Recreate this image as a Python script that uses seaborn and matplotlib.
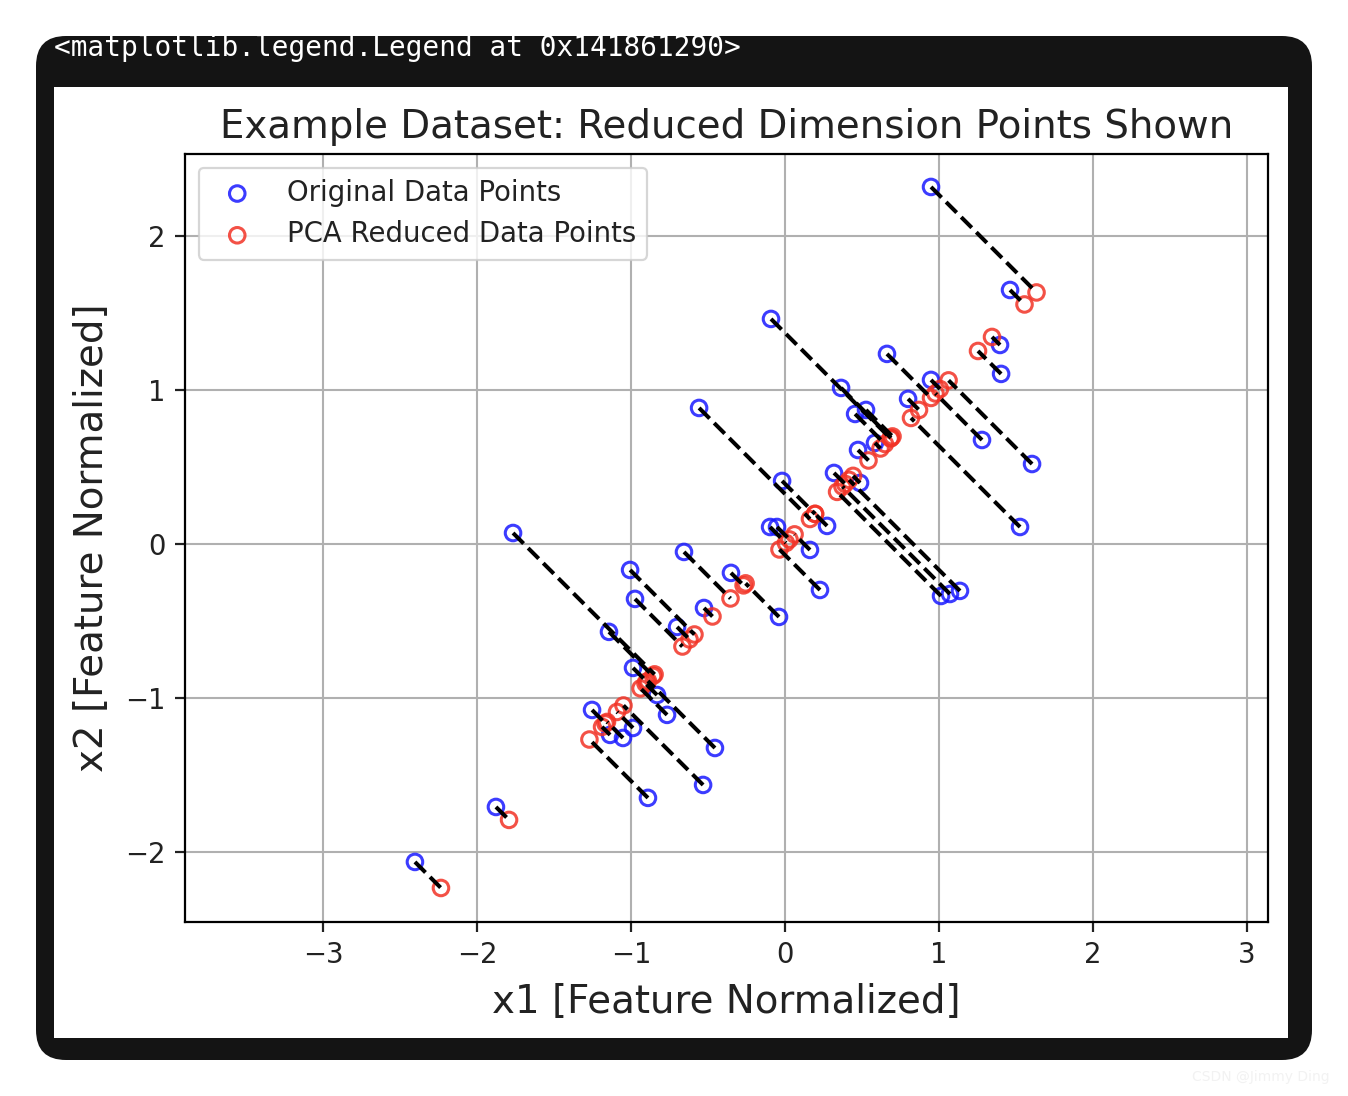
import numpy as np
import pandas as pd
import matplotlib
matplotlib.use("Agg")
import matplotlib.pyplot as plt
from matplotlib.patches import FancyBboxPatch, Rectangle
import seaborn as sns

# ---- data ----
orig_x = [0.948, 1.461, -0.091, 0.662, 1.396, 1.403, 0.948, 0.364, 0.799, 0.455,
          0.526, 1.279, -0.558, 0.474, 0.584, 1.604, -0.019, 0.318, 0.487, 0.273,
          -0.097, -0.052, 1.526, -1.766, 0.162, -0.656, -1.006, -0.351, 0.227, -0.974,
          -0.526, -0.039, -1.143, -0.701, 1.013, 1.071, 1.136, -0.987, -0.831, -0.766,
          -0.455, -0.532, -0.890, -1.253, -1.136, -1.052, -0.987, -1.877, -2.403]
orig_y = [2.318, 1.649, 1.461, 1.234, 1.292, 1.104, 1.065, 1.013, 0.942, 0.844,
          0.870, 0.675, 0.883, 0.610, 0.656, 0.519, 0.409, 0.461, 0.396, 0.117,
          0.110, 0.110, 0.110, 0.071, -0.039, -0.052, -0.169, -0.188, -0.299, -0.357,
          -0.416, -0.474, -0.571, -0.539, -0.338, -0.325, -0.305, -0.805, -0.981, -1.110,
          -1.325, -1.565, -1.649, -1.078, -1.240, -1.260, -1.195, -1.708, -2.065]
red_x = [1.633, 1.555, 0.685, 0.948, 1.344, 1.253, 1.006, 0.688, 0.870, 0.649,
         0.698, 0.977, 0.162, 0.542, 0.620, 1.062, 0.195, 0.390, 0.442, 0.195,
         0.006, 0.029, 0.818, -0.847, 0.062, -0.354, -0.588, -0.269, -0.036, -0.666,
         -0.471, -0.256, -0.857, -0.620, 0.338, 0.373, 0.416, -0.896, -0.906, -0.938,
         -0.890, -1.049, -1.270, -1.166, -1.188, -1.156, -1.091, -1.792, -2.234]
red_y = [1.633, 1.555, 0.685, 0.948, 1.344, 1.253, 1.006, 0.688, 0.870, 0.649,
         0.698, 0.977, 0.162, 0.542, 0.620, 1.062, 0.195, 0.390, 0.442, 0.195,
         0.006, 0.029, 0.818, -0.847, 0.062, -0.354, -0.588, -0.269, -0.036, -0.666,
         -0.471, -0.256, -0.857, -0.620, 0.338, 0.373, 0.416, -0.896, -0.906, -0.938,
         -0.890, -1.049, -1.270, -1.166, -1.188, -1.156, -1.091, -1.792, -2.234]
x_ticks = [-3, -2, -1, 0, 1, 2, 3]
y_ticks = [-2, -1, 0, 1, 2]

orig = pd.DataFrame({"x1": orig_x, "x2": orig_y})
red = pd.DataFrame({"x1": red_x, "x2": red_y})

W, H = 1348, 1096
fig = plt.figure(figsize=(W / 100, H / 100), dpi=100, facecolor="white")

# notebook-like dark frame
frame = FancyBboxPatch((36, 36), 1312 - 36, 1060 - 36,
                       boxstyle="round,pad=0,rounding_size=30",
                       transform=None, facecolor="#141414", edgecolor="none", zorder=-3)
fig.patches.append(frame)
panel = Rectangle((54, H - 1038), 1288 - 54, 1038 - 87, transform=None,
                  facecolor="white", edgecolor="none", zorder=-2)
fig.patches.append(panel)
fig.text(54 / W, 1 - 56 / H, "<matplotlib.legend.Legend at 0x141861290>",
         family="DejaVu Sans Mono", fontsize=20, color="white",
         ha="left", va="baseline", zorder=-1)
fig.text(1192 / W, 1 - 1077 / H, "CSDN @Jimmy Ding", fontsize=10,
         color="#f2f2f2", ha="left", va="center")

ax = fig.add_axes([185 / W, 1 - 922 / H, 1083 / W, 768 / H])
ax.set_facecolor("white")

sc = 1.98
blue = (0.1, 0.1, 1.0, 0.85)
redc = (0.95, 0.2, 0.15, 0.85)

sns.scatterplot(data=orig, x="x1", y="x2", ax=ax, marker="o", s=125,
                facecolors="none", edgecolor=blue, linewidth=2.2,
                label="Original Data Points", zorder=2)
sns.scatterplot(data=red, x="x1", y="x2", ax=ax, marker="o", s=125,
                facecolors="none", edgecolor=redc, linewidth=2.2,
                label="PCA Reduced Data Points", zorder=2)
for i in range(len(orig_x)):
    ax.plot([orig_x[i], red_x[i]], [orig_y[i], red_y[i]], "--", color="black",
            linewidth=2.9, zorder=3)

ax.set_xlim(-3.896, 3.136)
ax.set_ylim(-2.455, 2.532)
ax.set_xticks(x_ticks)
ax.set_yticks(y_ticks)
ax.grid(True, color="#b0b0b0", linewidth=1.5)
ax.set_axisbelow(True)
for s in ax.spines.values():
    s.set_linewidth(1.6)
    s.set_color("black")
ax.tick_params(labelsize=10 * sc, length=3.5 * sc, width=0.8 * sc, pad=3.5 * sc,
               colors="#222222")
ax.set_xlabel("x1 [Feature Normalized]", fontsize=27.9, color="#222222", labelpad=10)
ax.set_ylabel("x2 [Feature Normalized]", fontsize=27.9, color="#222222", labelpad=10)
ax.set_title("Example Dataset: Reduced Dimension Points Shown", fontsize=27.9,
             pad=6 * sc, color="#222222")
leg = ax.legend(loc="upper left", fontsize=10 * sc, framealpha=0.8)
leg.get_frame().set_linewidth(1.6)
for t in leg.get_texts():
    t.set_color("#222222")

fig.savefig("out.png", dpi=100, facecolor="white")
